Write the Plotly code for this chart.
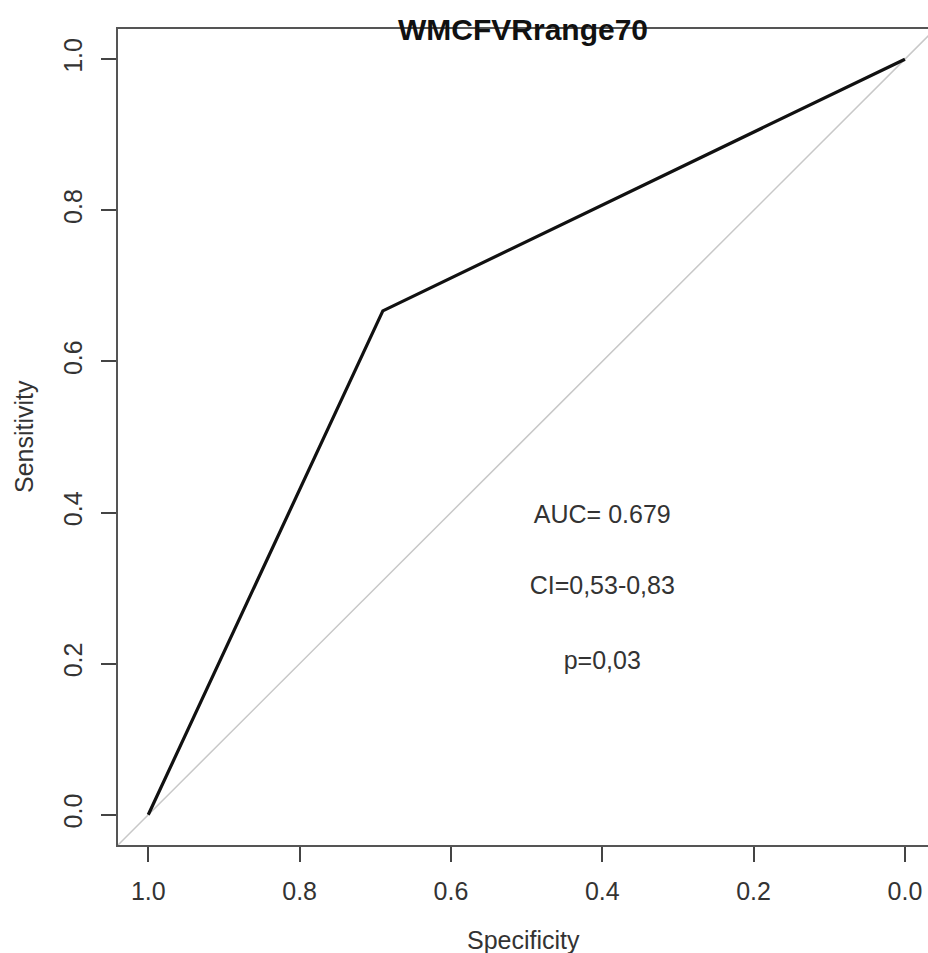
import plotly.graph_objects as go

# ROC curve data
specificity = [1.0, 0.69, 0.0]
sensitivity = [0.0, 0.667, 1.0]

x_ticks = [1.0, 0.8, 0.6, 0.4, 0.2, 0.0]
x_tick_labels = ["1.0", "0.8", "0.6", "0.4", "0.2", "0.0"]
y_ticks = [0.0, 0.2, 0.4, 0.6, 0.8, 1.0]
y_tick_labels = ["0.0", "0.2", "0.4", "0.6", "0.8", "1.0"]

title_text = "WMCFVRrange70"
stats_labels = ["AUC= 0.679", "CI=0,53-0,83", "p=0,03"]
stats_x = [0.4, 0.4, 0.4]
stats_y = [0.394, 0.300, 0.201]

x_range = [1.04, -0.0305]
y_range = [-0.04, 1.04]

FONT = "Liberation Sans, Arial, sans-serif"
TXT = "#333333"

fig = go.Figure()

# diagonal reference (abline y = 1 - x across the plot)
diag_x = [x_range[0], -0.04]
diag_y = [1 - v for v in diag_x]
fig.add_trace(go.Scatter(x=diag_x, y=diag_y, mode="lines",
                         line=dict(color="#c8c8c8", width=1.5),
                         hoverinfo="skip", showlegend=False, cliponaxis=True))

fig.add_trace(go.Scatter(x=specificity, y=sensitivity, mode="lines",
                         line=dict(color="#111111", width=3.2),
                         showlegend=False))

fig.add_trace(go.Scatter(x=stats_x, y=stats_y, mode="text", text=stats_labels,
                         textfont=dict(family=FONT, size=25, color=TXT),
                         textposition="middle center", showlegend=False,
                         hoverinfo="skip"))

fig.update_layout(
    width=928, height=953,
    margin=dict(l=118, r=0, t=29, b=108),
    paper_bgcolor="white", plot_bgcolor="white",
    showlegend=False,
    font=dict(family=FONT, color=TXT),
    xaxis=dict(range=x_range, tickvals=x_ticks, ticktext=x_tick_labels,
               showgrid=False, zeroline=False,
               showline=True, mirror=True, linecolor="#555555", linewidth=2,
               ticks="outside", ticklen=15, tickwidth=1.5, tickcolor="#444444",
               tickfont=dict(family=FONT, size=25, color=TXT),
               ticklabelstandoff=8),
    yaxis=dict(range=y_range, tickvals=y_ticks, ticktext=y_tick_labels,
               showgrid=False, zeroline=False,
               showline=True, mirror=False, linecolor="#555555", linewidth=2,
               ticks="outside", ticklen=15, tickwidth=1.5, tickcolor="#444444",
               tickangle=-90,
               tickfont=dict(family=FONT, size=25, color=TXT),
               ticklabelstandoff=9),
    annotations=[
        dict(text="<b>" + title_text + "</b>", xref="paper", yref="paper",
             x=0.5, y=1, xanchor="center", yanchor="middle", showarrow=False,
             yshift=0, font=dict(family=FONT, size=30, color="#111111")),
        dict(text="Specificity", xref="paper", yref="paper", x=0.5, y=0,
             xanchor="center", yanchor="middle", yshift=-95, showarrow=False,
             font=dict(family=FONT, size=25, color=TXT)),
        dict(text="Sensitivity", xref="paper", yref="paper", x=0, y=0.5,
             xanchor="center", yanchor="middle", xshift=-94, textangle=-90,
             showarrow=False, font=dict(family=FONT, size=25, color=TXT)),
    ],
)

# remove the default page margin so the figure fills the window exactly
fig.write_html("out.html",
               config={"displayModeBar": False},
               post_script="document.body.style.margin='0';"
                           "document.body.style.overflow='hidden';")
